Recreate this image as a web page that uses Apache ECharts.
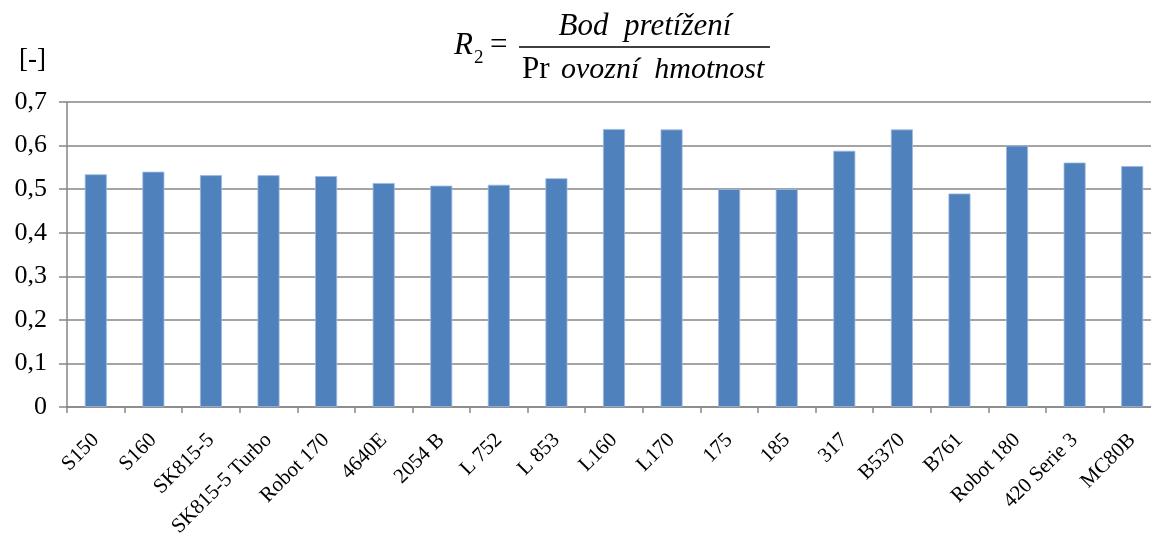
<!DOCTYPE html>
<html>
<head>
<meta charset="utf-8">
<script src="https://cdn.jsdelivr.net/npm/echarts@6/dist/echarts.min.js"></script>
<style>
html,body{margin:0;padding:0;background:#fff;}
#chart{width:1151px;height:533px;}
</style>
</head>
<body>
<div id="chart"></div>
<script>
const categories = ['S150','S160','SK815-5','SK815-5 Turbo','Robot 170','4640E','2054 B','L 752','L 853','L160','L170','175','185','317','B5370','B761','Robot 180','420 Serie 3','MC80B'];
const values = [0.534,0.540,0.532,0.532,0.530,0.514,0.508,0.510,0.525,0.638,0.637,0.500,0.500,0.588,0.637,0.490,0.600,0.561,0.553];
const yTicks = {min:0, max:0.7, interval:0.1};
const unitLabel = '[-]';

const FONT = '"Liberation Serif","Times New Roman",serif';
const chart = echarts.init(document.getElementById('chart'), null, {renderer:'canvas'});
chart.setOption({
  animation:false,
  backgroundColor:'#ffffff',
  grid:{left:67, top:102, width:1094, bottom:126, containLabel:false, outerBoundsMode:'none'},
  xAxis:{
    type:'category', data:categories,
    axisLine:{lineStyle:{color:'#868686', width:1.5}},
    axisTick:{show:true, length:6, lineStyle:{color:'#868686', width:1.5}},
    axisLabel:{rotate:45, interval:0, margin:30, fontFamily:FONT, fontSize:21, color:'#000'},
    splitLine:{show:false}
  },
  yAxis:{
    type:'value', min:yTicks.min, max:yTicks.max, interval:yTicks.interval,
    axisLine:{show:true, lineStyle:{color:'#868686', width:1.5}},
    axisTick:{show:true, length:8, lineStyle:{color:'#868686', width:1.5}},
    splitLine:{show:true, lineStyle:{color:'#868686', width:1.5}},
    axisLabel:{margin:20, fontFamily:FONT, fontSize:26, color:'#000',
      formatter:function(v){ return v===0 ? '0' : v.toFixed(1).replace('.',','); }}
  },
  series:[{
    type:'bar', data:values, barWidth:22,
    itemStyle:{color:'#4F81BD', borderColor:'#9db9e0', borderWidth:0.8}
  }],
  graphic:[
    {type:'text', left:19, top:46, style:{text:unitLabel, font:'27px '+FONT, fill:'#000'}},
    {type:'text', x:454, y:46, style:{text:'R', font:'italic 31px '+FONT, fill:'#000', verticalAlign:'middle'}},
    {type:'text', x:474, y:58, style:{text:'2', font:'19px '+FONT, fill:'#000', verticalAlign:'middle'}},
    {type:'text', x:490, y:46, style:{text:'=', font:'31px '+FONT, fill:'#000', verticalAlign:'middle'}},
    {type:'line', shape:{x1:519, y1:47, x2:770, y2:47}, style:{stroke:'#000', lineWidth:1.5}},
    {type:'text', x:645, y:27, style:{text:'Bod  pretížení', font:'italic 31px '+FONT, fill:'#000', align:'center', verticalAlign:'middle'}},
    {type:'text', x:522, y:70, style:{text:'Pr', font:'31px '+FONT, fill:'#000', align:'left', verticalAlign:'middle'}},
    {type:'text', x:561, y:70, style:{text:'ovozní  hmotnost', font:'italic 30px '+FONT, fill:'#000', align:'left', verticalAlign:'middle'}}
  ]
});
</script>
</body>
</html>
